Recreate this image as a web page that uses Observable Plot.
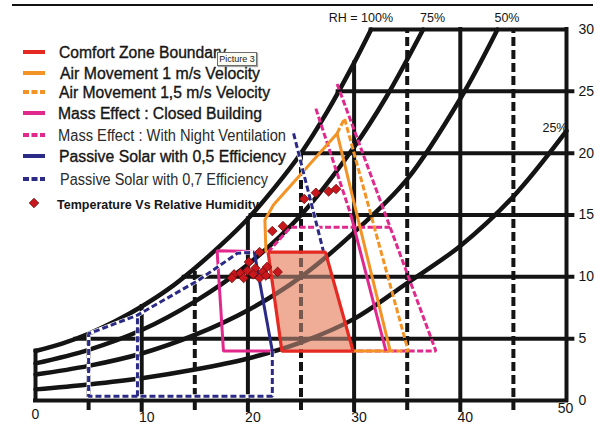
<!DOCTYPE html>
<html>
<head>
<meta charset="utf-8">
<script src="https://cdn.jsdelivr.net/npm/d3@7"></script>
<script src="https://cdn.jsdelivr.net/npm/@observablehq/plot@0.6"></script>
<style>
  html, body { margin: 0; padding: 0; background: #fff; }
  #wrap { position: relative; width: 597px; height: 429px; overflow: hidden; font-family: "Liberation Sans", Arial, sans-serif; }
  #wrap > svg { position: absolute; left: 0; top: 0; }
  #rule { position: absolute; left: 12px; top: 4px; width: 581px; height: 2px; background: #111; z-index: 3; }
  #tip { position: absolute; left: 217px; top: 52px; width: 40px; height: 14px; box-sizing: border-box;
         background: #fbfbf2; border: 1px solid #6c6c6c; box-shadow: 1px 1px 1px rgba(0,0,0,0.35);
         font: 9px "Liberation Sans", Arial, sans-serif; line-height: 12px; text-align: center; color: #222; z-index: 4; }
</style>
</head>
<body>
<div id="wrap"><div id="rule"></div></div>
<script>
// ---- Relative-humidity curves: dry-bulb temperature (°C) vs humidity ratio (g/kg) ----
const rhNames = ["RH = 100%", "75%", "50%", "25%"];
const rh100T = [0, 2.5, 5, 7.5, 10, 12.5, 15, 17.5, 20, 22.5, 25, 27.5, 30, 31.6];
const rh100W = [4.0, 4.6, 5.4, 6.4, 7.6, 9.0, 10.7, 12.6, 14.7, 17.2, 20.0, 23.4, 27.3, 30.0];
const rh75T = [0, 5, 10, 15, 20, 25, 30, 33, 36.5];
const rh75W = [3.0, 4.1, 5.7, 8.0, 11.0, 15.0, 20.5, 24.5, 30.0];
const rh50T = [0, 5, 10, 15, 20, 25, 30, 35, 40, 43.5];
const rh50W = [2.1, 2.8, 3.8, 5.3, 7.3, 10.0, 13.6, 17.9, 24.4, 30.0];
const rh25T = [0, 5, 10, 15, 20, 25, 30, 35, 40, 45, 50];
const rh25W = [0.9, 1.3, 1.8, 2.5, 3.4, 4.7, 6.6, 9.5, 12.5, 16.5, 21.8];

// ---- Grid: temperature lines end on the saturation curve, humidity lines start on it ----
const gridT = [0, 5, 10, 15, 20, 25, 30, 35, 40, 45, 50];
const gridTTop = [4.0, 5.4, 7.6, 10.7, 14.7, 20.0, 27.3, 30, 30, 30, 30];
const gridW = [0, 5, 10, 15, 20, 25, 30];
const gridWStart = [0, 3.8, 14.0, 20.3, 25.0, 28.5, 31.6];

// ---- Axis tick labels ----
const xTicks = [0, 10, 20, 30, 40, 50];
const yTicks = [0, 5, 10, 15, 20, 25, 30];

// ---- Bioclimatic zones (vertices as temperature / humidity ratio) ----
const comfortT = [21.9, 27.3, 29.9, 23.2, 21.9];
const comfortW = [12.0, 12.0, 4.0, 4.0, 12.0];

const air1T = [21.7, 21.6, 22.4, 28.4, 33.4, 29.9];
const air1W = [12.0, 14.6, 15.8, 21.6, 4.0, 4.0];
const air15T = [28.4, 29.1, 35.1, 33.4];
const air15W = [21.6, 22.8, 4.0, 4.0];

const massClosedT = [20.6, 17.1, 17.7, 22.3];
const massClosedW = [12.05, 12.1, 4.0, 4.0];
const massClosedRightT = [29.7, 33.0];
const massClosedRightW = [15.0, 4.0];

const massNightT = [21.9, 24.0, 33.4];
const massNightW = [12.0, 14.0, 14.0];
const massNightRightT = [28.4, 37.7, 29.9];
const massNightRightW = [25.6, 4.0, 4.0];
const massNightUpperT = [26.4, 29.7];
const massNightUpperW = [23.6, 15.0];

const solar05T = [20.6, 22.3];
const solar05W = [12.0, 4.0];
const solar07T = [22.3, 22.3, 5.0, 5.0, 9.6, 15.3, 19.0, 20.6];
const solar07W = [4.0, 0.35, 0.35, 5.4, 6.9, 9.7, 11.9, 12.0];
const solar07InnerT = [9.6, 9.6];
const solar07InnerW = [0.35, 6.9];
const solar07UpperT = [24.3, 27.1];
const solar07UpperW = [21.6, 12.1];

// ---- Measured temperature vs humidity ----
const obsT = [25.3, 26.4, 27.6, 28.3, 22.3, 23.3, 21.1, 20.1, 21.8, 20.7, 18.7, 19.3, 19.95, 21.4, 22.8, 20.5, 19.6, 18.5, 21.1, 21.7];
const obsW = [16.3, 16.8, 16.9, 17.1, 13.7, 14.1, 12.0, 11.2, 10.8, 10.7, 10.2, 10.3, 10.5, 10.4, 10.4, 10.2, 9.9, 9.9, 9.9, 10.1];

// ---- Legend ----
const legendLabels = [
  "Comfort Zone Boundary",
  "Air Movement 1 m/s Velocity",
  "Air Movement 1,5 m/s Velocity",
  "Mass Effect : Closed Building",
  "Mass Effect : With Night Ventilation",
  "Passive Solar with 0,5 Efficiency",
  "Passive Solar with 0,7 Efficiency",
  "Temperature Vs Relative Humidity"
];

// colours
const RED = "#e42a22", ORANGE = "#f39325", MAGENTA = "#e0288d", NAVY = "#2b2a86";
const SALMON = "#efad98", DOT = "#c8171d", INK = "#141414";

const pts = (id, ts, ws) => ts.map((T, i) => ({id, T, W: ws[i]}));

const rhRows = [
  ...pts(rhNames[0], rh100T, rh100W),
  ...pts(rhNames[1], rh75T, rh75W),
  ...pts(rhNames[2], rh50T, rh50W),
  ...pts(rhNames[3], rh25T, rh25W)
];
const rhEnds = rhNames.map(n => rhRows.filter(d => d.id === n).at(-1));

const vRows = gridT.map((T, i) => ({T, top: gridTTop[i], dashed: T % 10 === 5}));
const hRows = gridW.map((W, i) => ({W, start: gridWStart[i]}));
const comfortRows = pts("comfort", comfortT, comfortW);
const obsRows = obsT.map((T, i) => ({T, W: obsW[i]}));

const orangeSolid = pts("a1", air1T, air1W);
const orangeDash = pts("a15", air15T, air15W);
const magentaSolid = [...pts("mc", massClosedT, massClosedW), ...pts("mcr", massClosedRightT, massClosedRightW)];
const magentaDash = [...pts("mn", massNightT, massNightW), ...pts("mnr", massNightRightT, massNightRightW), ...pts("mnu", massNightUpperT, massNightUpperW)];
const navySolid = pts("s5", solar05T, solar05W);
const navyDash = [...pts("s7", solar07T, solar07W), ...pts("s7i", solar07InnerT, solar07InnerW), ...pts("s7u", solar07UpperT, solar07UpperW)];

const lineOpts = {x: "T", y: "W", z: "id", strokeWidth: 3, strokeLinejoin: "miter", strokeLinecap: "butt"};

const chart = Plot.plot({
  width: 597,
  height: 429,
  marginLeft: 35,
  marginRight: 31,
  marginTop: 29,
  marginBottom: 29,
  x: {domain: [0, 50], axis: null},
  y: {domain: [0, 30], axis: null},
  style: {fontFamily: '"Liberation Sans", Arial, sans-serif', background: "transparent", overflow: "visible", color: INK},
  marks: [
    // comfort zone fill beneath the grid
    Plot.line(comfortRows, {x: "T", y: "W", fill: SALMON, stroke: "none"}),

    // temperature grid lines (solid every 10 °C, dashed in between), with ticks below the axis
    Plot.ruleX(vRows.filter(d => !d.dashed), {x: "T", y1: d => (d.T > 0 && d.T < 50 ? -0.8 : 0), y2: "top", stroke: INK, strokeWidth: 4, strokeLinecap: "square"}),
    Plot.ruleX(vRows.filter(d => d.dashed), {x: "T", y1: -0.8, y2: "top", stroke: INK, strokeWidth: 4, strokeDasharray: "9,4"}),

    // humidity ratio grid lines, with ticks to the right
    Plot.ruleY(hRows, {y: "W", x1: "start", x2: d => (d.W > 0 && d.W < 30 ? 50.6 : 50), stroke: INK, strokeWidth: 4, strokeLinecap: "square"}),

    // relative humidity curves
    Plot.line(rhRows, {x: "T", y: "W", z: "id", curve: "catmull-rom", stroke: INK, strokeWidth: 4.5}),

    // comfort zone tint over the grid
    Plot.line(comfortRows, {x: "T", y: "W", fill: SALMON, fillOpacity: 0.45, stroke: "none"}),

    // strategy zones
    Plot.line(magentaDash, {...lineOpts, stroke: MAGENTA, strokeDasharray: "6,2.5"}),
    Plot.line(orangeDash, {...lineOpts, stroke: ORANGE, strokeDasharray: "6,2.5"}),
    Plot.line(orangeSolid, {...lineOpts, stroke: ORANGE}),
    Plot.line(magentaSolid, {...lineOpts, stroke: MAGENTA}),
    Plot.line(navyDash, {...lineOpts, stroke: "#fff", strokeWidth: 4}),
    Plot.line(navyDash, {...lineOpts, stroke: NAVY, strokeDasharray: "6,3"}),
    Plot.line(navySolid, {...lineOpts, stroke: NAVY}),
    Plot.line(comfortRows, {...lineOpts, stroke: RED, strokeWidth: 3.2}),

    // measurements
    Plot.dot(obsRows, {x: "T", y: "W", symbol: "diamond2", r: 4.3, fill: DOT, stroke: "#6d0a0a", strokeWidth: 0.8}),

    // curve labels
    Plot.text(rhEnds.slice(0, 3), {x: "T", y: "W", text: "id", textAnchor: "end", dx: 22, dy: -12, fontSize: 12.5, fill: INK}),
    Plot.text(rhEnds.slice(3), {x: "T", y: "W", text: "id", textAnchor: "end", dx: 1, dy: -3, fontSize: 12.5, fill: INK}),

    // tick labels
    Plot.text(xTicks.filter(d => d > 0 && d < 50), {x: d => d, frameAnchor: "bottom", dy: 21, dx: 5, text: d => `${d}`, fontSize: 14, fill: INK}),
    Plot.text(xTicks.filter(d => d === 0), {x: d => d, frameAnchor: "bottom", dy: 18, text: d => `${d}`, fontSize: 14, fill: INK}),
    Plot.text(xTicks.filter(d => d === 50), {x: d => d, frameAnchor: "bottom", dy: 12, dx: -1, text: d => `${d}`, fontSize: 14, fill: INK}),
    Plot.text(yTicks, {y: d => d, frameAnchor: "right", dx: 12, textAnchor: "start", text: d => `${d}`, fontSize: 14, fill: INK})
  ]
});

const wrap = document.getElementById("wrap");
wrap.appendChild(chart);

// legend drawn over the empty upper-left part of the chart
const rowY = [52, 73, 92, 113, 135, 156, 179, 203];
const rowX = [59, 60, 59, 58, 58, 59, 60, 57];
const rowW = [167, 200, 211, 204, 228, 227, 208, 202];
const swatch = [
  {color: RED, dash: null},
  {color: ORANGE, dash: null},
  {color: ORANGE, dash: "6,2.5"},
  {color: MAGENTA, dash: null},
  {color: MAGENTA, dash: "6,2.5"},
  {color: NAVY, dash: null},
  {color: NAVY, dash: "6,2.5"},
  {color: DOT, dash: "marker"}
];
const heavy = [true, true, true, true, false, true, false, true];

const legend = d3.create("svg")
  .attr("width", 300).attr("height", 220)
  .style("position", "absolute").style("left", "0px").style("top", "0px")
  .style("font-family", '"Liberation Sans", Arial, sans-serif');

legendLabels.forEach((label, i) => {
  const s = swatch[i];
  const y = rowY[i];
  if (s.dash === "marker") {
    legend.append("path")
      .attr("d", d3.symbol(d3.symbolDiamond2, 58)())
      .attr("transform", `translate(34,${y})`)
      .attr("fill", s.color).attr("stroke", "#6d0a0a").attr("stroke-width", 0.8);
  } else {
    legend.append("line")
      .attr("x1", 23).attr("x2", 45).attr("y1", y).attr("y2", y)
      .attr("stroke", s.color).attr("stroke-width", 4)
      .attr("stroke-dasharray", s.dash);
  }
  const t = legend.append("text")
    .attr("x", rowX[i]).attr("y", y + 5.5)
    .attr("textLength", rowW[i]).attr("lengthAdjust", "spacingAndGlyphs")
    .attr("fill", heavy[i] ? "#161616" : "#2a2a2a")
    .text(label);
  if (i === 7) {
    t.attr("font-size", 13.5).attr("font-weight", "bold");
  } else {
    t.attr("font-size", 15.6);
    if (heavy[i]) t.attr("stroke", "#161616").attr("stroke-width", 0.35);
  }
});
wrap.appendChild(legend.node());

const tip = document.createElement("div");
tip.id = "tip";
tip.textContent = "Picture 3";
wrap.appendChild(tip);
</script>
</body>
</html>
